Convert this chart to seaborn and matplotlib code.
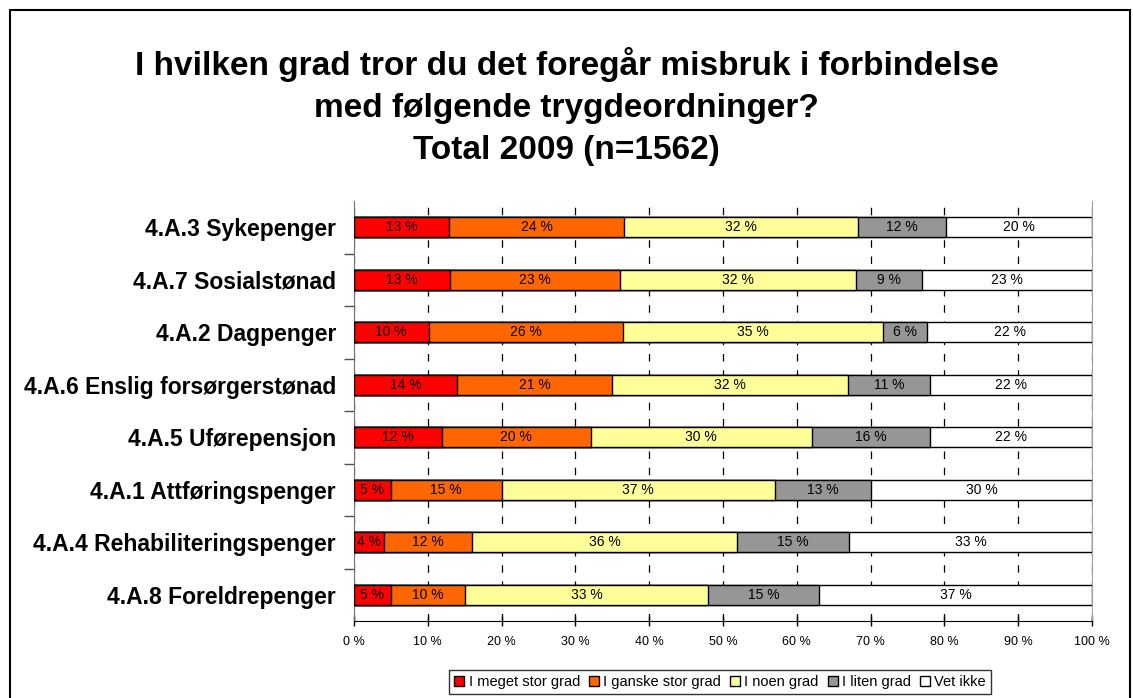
import numpy as np
import pandas as pd
import seaborn as sns
import matplotlib.pyplot as plt
from matplotlib.patches import Patch, Rectangle

# Data (percent of respondents)
ordninger = ['4.A.3 Sykepenger', '4.A.7 Sosialstønad', '4.A.2 Dagpenger',
             '4.A.6 Enslig forsørgerstønad', '4.A.5 Uførepensjon',
             '4.A.1 Attføringspenger', '4.A.4 Rehabiliteringspenger',
             '4.A.8 Foreldrepenger']
kategorier = ['I meget stor grad', 'I ganske stor grad', 'I noen grad',
              'I liten grad', 'Vet ikke']
meget_stor = [12.9, 13.0, 10.1, 14.0, 11.9, 5.0, 4.0, 5.0]
ganske_stor = [23.7, 23.0, 26.3, 21.0, 20.2, 15.0, 12.0, 10.1]
noen = [31.7, 32.0, 35.3, 32.0, 29.9, 37.0, 35.9, 32.9]
liten = [11.9, 8.9, 6.0, 11.0, 16.0, 13.1, 15.2, 15.0]
vet_ikke = [19.8, 23.1, 22.3, 22.0, 22.0, 29.9, 32.9, 37.0]
farger = ['#FF0000', '#FF6600', '#FFFF99', '#969696', '#FFFFFF']

df = pd.DataFrame({'ordning': ordninger})
serier = [meget_stor, ganske_stor, noen, liten, vet_ikke]
for k, s in zip(kategorier, serier):
    df[k] = s
kum = df[kategorier].cumsum(axis=1)

sns.set_style('white')
plt.rcParams['font.family'] = ['Liberation Sans', 'DejaVu Sans']
plt.rcParams['text.color'] = 'black'
plt.rcParams['xtick.color'] = 'black'
plt.rcParams['ytick.color'] = 'black'
plt.rcParams['axes.labelcolor'] = 'black'

fig = plt.figure(figsize=(11.33, 6.98), dpi=100)
ax = fig.add_axes([354 / 1133, 1 - 621 / 698, 738 / 1133, 420 / 698])

# stacked bars: draw cumulative totals from largest to smallest
for k, c in reversed(list(zip(kategorier, farger))):
    sns.barplot(x=kum[k], y=df['ordning'], orient='h', color=c, width=0.38,
                edgecolor='black', linewidth=1, saturation=1, ax=ax, zorder=3)

# segment labels
for i in range(len(ordninger)):
    venstre = 0
    for k in kategorier:
        v = df.loc[i, k]
        ax.text(venstre + v / 2, i, f'{v:.0f} %', ha='center', va='center',
                fontsize=10, zorder=4)
        venstre += v

ax.set_xlim(0, 100)
ax.set_ylim(len(ordninger) - 0.5, -0.5)
ax.set_xticks(np.arange(0, 101, 10))
ax.set_xticklabels([f'{t} %' for t in range(0, 101, 10)], fontsize=9)
ax.xaxis.grid(True, color='black', linestyle=(0, (6, 7)), linewidth=0.9)
ax.set_axisbelow(True)
ax.set_xlabel('')
ax.set_ylabel('')
ax.tick_params(axis='x', direction='inout', length=7, width=1, color='black',
               bottom=True, pad=7)
ax.tick_params(axis='y', length=0, pad=13, labelsize=16.5)
for lbl in ax.get_yticklabels():
    lbl.set_fontweight('bold')
ax.set_yticks(np.arange(0.5, len(ordninger) - 1, 1), minor=True)
ax.tick_params(axis='y', which='minor', direction='out', length=7, width=1,
               color='#505050', left=True)

ax.spines['top'].set_visible(False)
ax.spines['left'].set_color('#707070')
ax.spines['right'].set_color('#A0A0A0')
ax.spines['bottom'].set_color('black')

fig.suptitle('I hvilken grad tror du det foregår misbruk i forbindelse\n'
             'med følgende trygdeordninger?\nTotal 2009 (n=1562)',
             fontsize=24, fontweight='bold', y=0.932, linespacing=1.45)

handles = [Patch(facecolor=c, edgecolor='black', label=k)
           for k, c in zip(kategorier, farger)]
leg = fig.legend(handles=handles, loc='center', bbox_to_anchor=(720 / 1133, 1 - 682 / 698),
                 ncol=5, fontsize=10.5, frameon=True, fancybox=False,
                 handlelength=0.7, handleheight=0.7, handletextpad=0.3,
                 columnspacing=0.6, borderpad=0.35)
leg.get_frame().set_edgecolor('black')
leg.get_frame().set_linewidth(1)

fig.patches.append(Rectangle((10 / 1133, -0.05), 1120 / 1133, 1 - 10 / 698 + 0.05,
                             transform=fig.transFigure, fill=False,
                             edgecolor='black', linewidth=1.5))

fig.savefig('out.png', dpi=100)
